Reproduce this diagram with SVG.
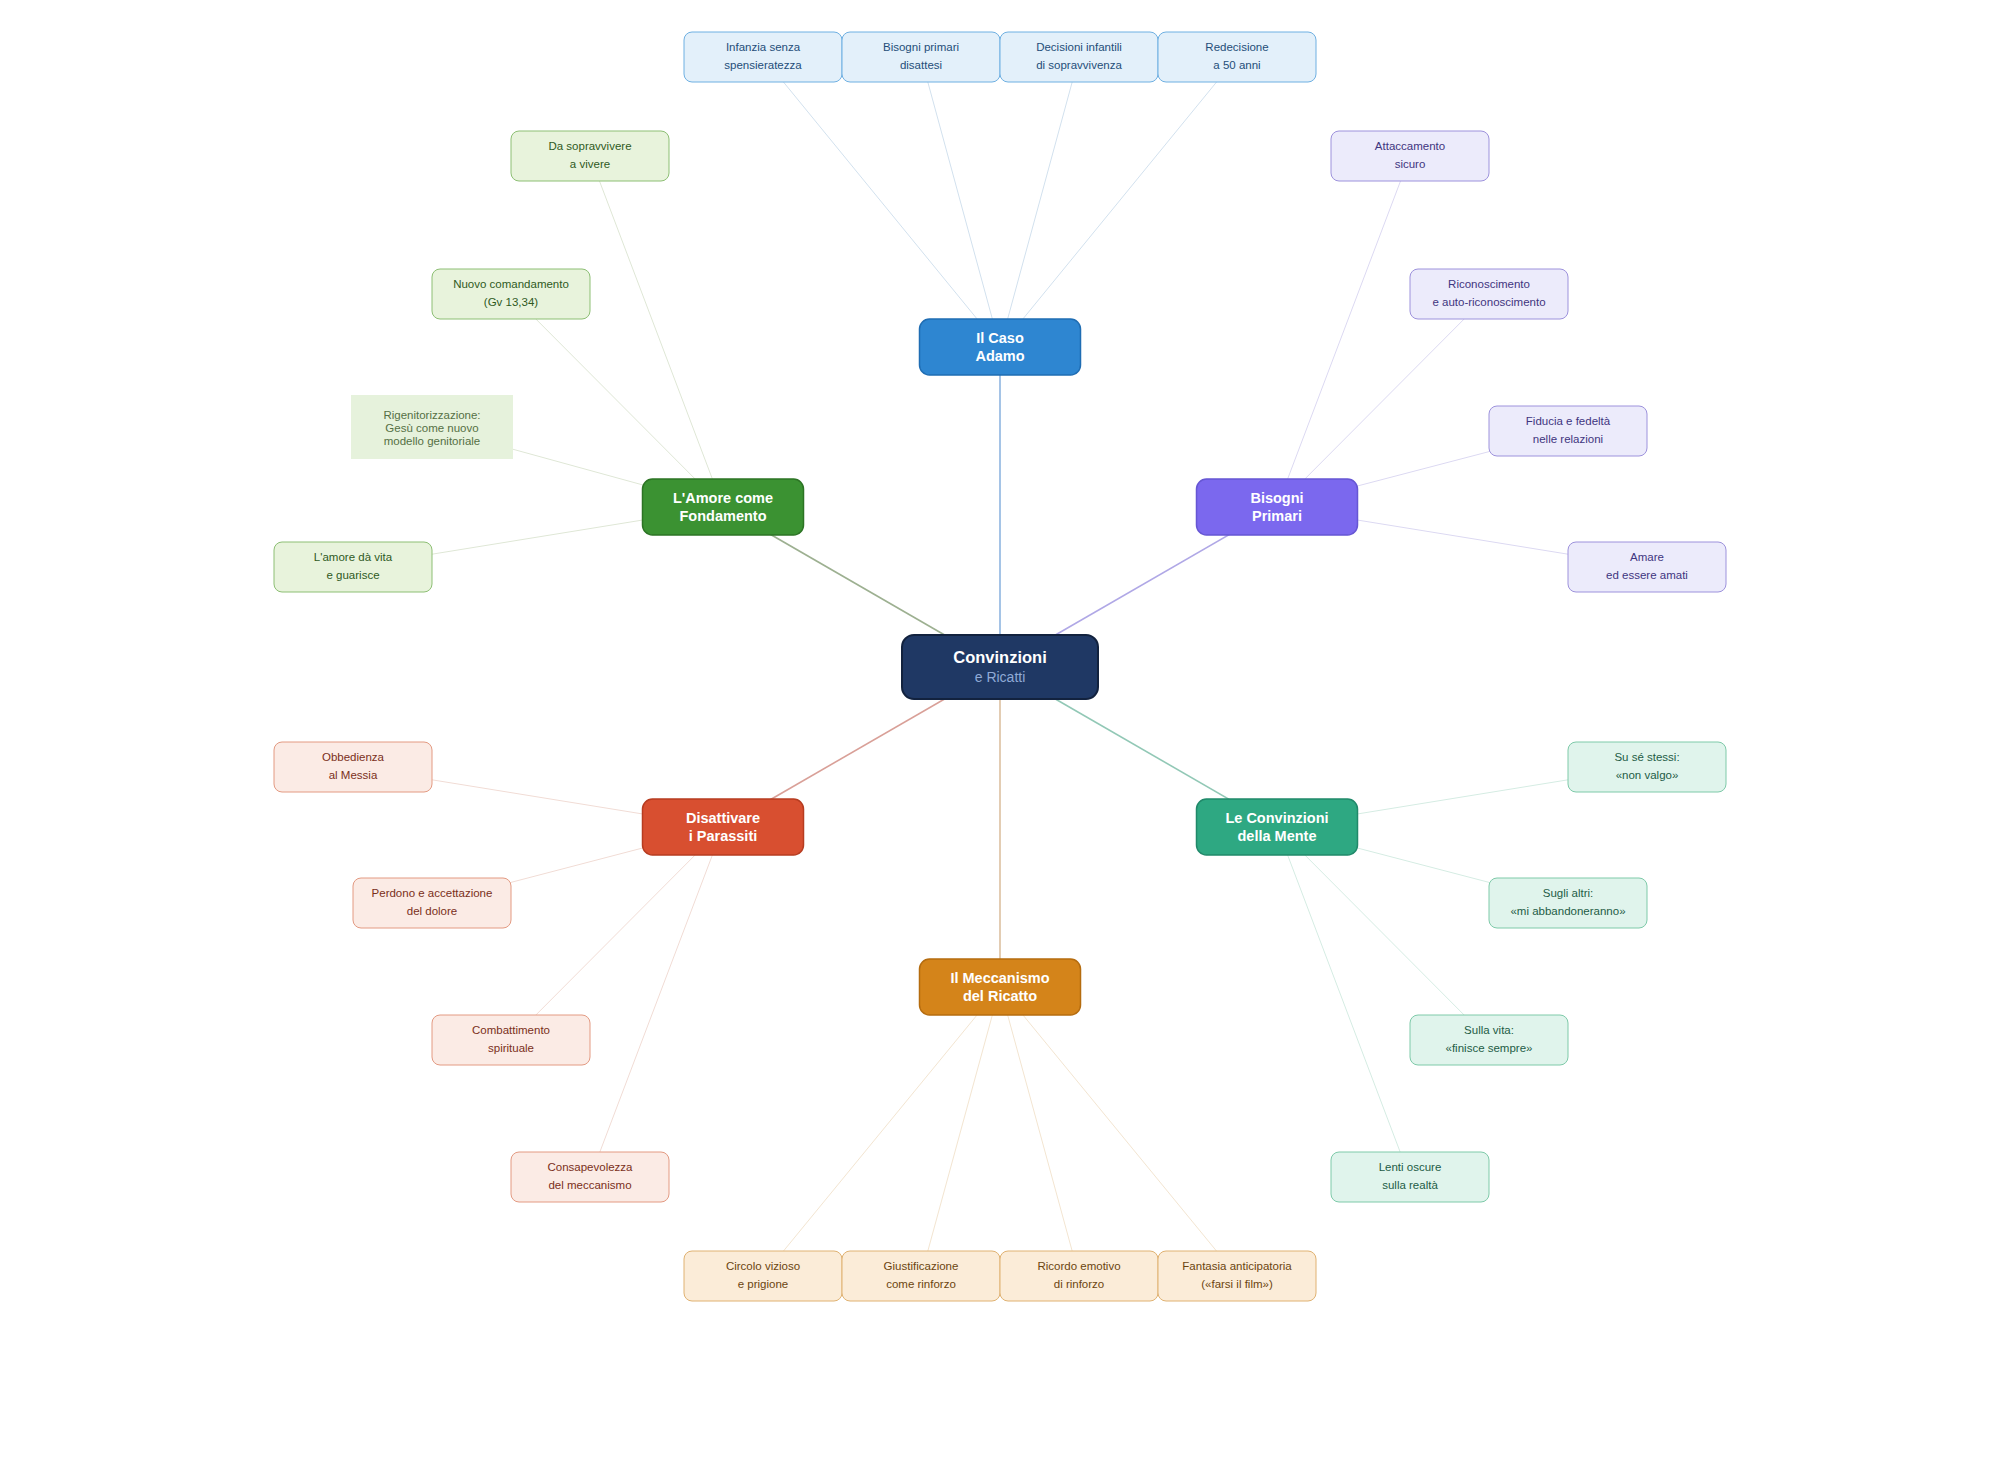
<svg xmlns="http://www.w3.org/2000/svg" width="2000" height="1467" viewBox="0 0 2000 1467">
<style>
text{font-family:"Liberation Sans",Arial,sans-serif;text-anchor:middle}
.br text{fill:#fff;font-weight:bold;font-size:14.5px}
.lf text{font-size:11.5px}
.bl rect{fill:#e3f0fa;stroke:#6fb0e2}.bl text{fill:#1f4e79}
.gr rect{fill:#e8f3dc;stroke:#8dbf74}.gr text{fill:#2f5a1e}
.pu rect{fill:#ecebfb;stroke:#9d92dc}.pu text{fill:#3f3580}
.rd rect{fill:#fbebe5;stroke:#e39a82}.rd text{fill:#7a2f1a}
.tl rect{fill:#e0f4ec;stroke:#7ecaa9}.tl text{fill:#1e5c46}
.or rect{fill:#fbecd8;stroke:#e0b272}.or text{fill:#6b4510}
.lf rect{stroke-width:1}
.br rect{stroke-width:1.5}
#connectors line{fill:none}
.c1{stroke-width:1.6}
.c2{stroke-width:1}
</style>
<rect width="2000" height="1467" fill="#ffffff"/>
<g id="connectors">
<line class="c1" x1="1000" y1="667" x2="1000" y2="347" stroke="#8fb5e0"/>
<line class="c1" x1="1000" y1="667" x2="723" y2="507" stroke="#9db091"/>
<line class="c1" x1="1000" y1="667" x2="1277" y2="507" stroke="#b0a8e6"/>
<line class="c1" x1="1000" y1="667" x2="723" y2="827" stroke="#d9a098"/>
<line class="c1" x1="1000" y1="667" x2="1277" y2="827" stroke="#92c8b6"/>
<line class="c1" x1="1000" y1="667" x2="1000" y2="987" stroke="#dcc0a0"/>
<g stroke="#d2e1ee" class="c2">
<line x1="1000" y1="347" x2="763" y2="57"/><line x1="1000" y1="347" x2="921" y2="57"/><line x1="1000" y1="347" x2="1079" y2="57"/><line x1="1000" y1="347" x2="1237" y2="57"/>
</g>
<g stroke="#dfe7d6" class="c2">
<line x1="723" y1="507" x2="590" y2="156"/><line x1="723" y1="507" x2="511" y2="294"/><line x1="723" y1="507" x2="432" y2="427"/><line x1="723" y1="507" x2="353" y2="567"/>
</g>
<g stroke="#dcd9f2" class="c2">
<line x1="1277" y1="507" x2="1410" y2="156"/><line x1="1277" y1="507" x2="1489" y2="294"/><line x1="1277" y1="507" x2="1568" y2="431"/><line x1="1277" y1="507" x2="1647" y2="567"/>
</g>
<g stroke="#f1dcd5" class="c2">
<line x1="723" y1="827" x2="353" y2="767"/><line x1="723" y1="827" x2="432" y2="903"/><line x1="723" y1="827" x2="511" y2="1040"/><line x1="723" y1="827" x2="590" y2="1178"/>
</g>
<g stroke="#d5ece3" class="c2">
<line x1="1277" y1="827" x2="1647" y2="767"/><line x1="1277" y1="827" x2="1568" y2="903"/><line x1="1277" y1="827" x2="1489" y2="1040"/><line x1="1277" y1="827" x2="1410" y2="1178"/>
</g>
<g stroke="#f3e5d1" class="c2">
<line x1="1000" y1="987" x2="763" y2="1276"/><line x1="1000" y1="987" x2="921" y2="1276"/><line x1="1000" y1="987" x2="1079" y2="1276"/><line x1="1000" y1="987" x2="1237" y2="1276"/>
</g>
</g>

<!-- Top leaves (blue) -->
<g id="n-infanzia" class="lf bl"><rect x="684" y="32" width="158" height="50" rx="8"/><text x="763" y="51">Infanzia senza</text><text x="763" y="69">spensieratezza</text></g>
<g id="n-bisogni-disattesi" class="lf bl"><rect x="842" y="32" width="158" height="50" rx="8"/><text x="921" y="51">Bisogni primari</text><text x="921" y="69">disattesi</text></g>
<g id="n-decisioni" class="lf bl"><rect x="1000" y="32" width="158" height="50" rx="8"/><text x="1079" y="51">Decisioni infantili</text><text x="1079" y="69">di sopravvivenza</text></g>
<g id="n-redecisione" class="lf bl"><rect x="1158" y="32" width="158" height="50" rx="8"/><text x="1237" y="51">Redecisione</text><text x="1237" y="69">a 50 anni</text></g>

<!-- Green leaves -->
<g id="n-sopravvivere" class="lf gr"><rect x="511" y="131" width="158" height="50" rx="8"/><text x="590" y="150">Da sopravvivere</text><text x="590" y="168">a vivere</text></g>
<g id="n-comandamento" class="lf gr"><rect x="432" y="269" width="158" height="50" rx="8"/><text x="511" y="288">Nuovo comandamento</text><text x="511" y="306">(Gv 13,34)</text></g>
<g id="n-rigenitorizzazione"><rect x="351" y="395" width="162" height="64" fill="#e6f2dc"/><text x="432" y="419" font-size="11.5" fill="#557045">Rigenitorizzazione:</text><text x="432" y="432" font-size="11.5" fill="#557045">Gesù come nuovo</text><text x="432" y="445" font-size="11.5" fill="#557045">modello genitoriale</text></g>
<g id="n-amore-vita" class="lf gr"><rect x="274" y="542" width="158" height="50" rx="8"/><text x="353" y="561">L'amore dà vita</text><text x="353" y="579">e guarisce</text></g>

<!-- Purple leaves -->
<g id="n-attaccamento" class="lf pu"><rect x="1331" y="131" width="158" height="50" rx="8"/><text x="1410" y="150">Attaccamento</text><text x="1410" y="168">sicuro</text></g>
<g id="n-riconoscimento" class="lf pu"><rect x="1410" y="269" width="158" height="50" rx="8"/><text x="1489" y="288">Riconoscimento</text><text x="1489" y="306">e auto-riconoscimento</text></g>
<g id="n-fiducia" class="lf pu"><rect x="1489" y="406" width="158" height="50" rx="8"/><text x="1568" y="425">Fiducia e fedeltà</text><text x="1568" y="443">nelle relazioni</text></g>
<g id="n-amare" class="lf pu"><rect x="1568" y="542" width="158" height="50" rx="8"/><text x="1647" y="561">Amare</text><text x="1647" y="579">ed essere amati</text></g>

<!-- Red leaves -->
<g id="n-obbedienza" class="lf rd"><rect x="274" y="742" width="158" height="50" rx="8"/><text x="353" y="761">Obbedienza</text><text x="353" y="779">al Messia</text></g>
<g id="n-perdono" class="lf rd"><rect x="353" y="878" width="158" height="50" rx="8"/><text x="432" y="897">Perdono e accettazione</text><text x="432" y="915">del dolore</text></g>
<g id="n-combattimento" class="lf rd"><rect x="432" y="1015" width="158" height="50" rx="8"/><text x="511" y="1034">Combattimento</text><text x="511" y="1052">spirituale</text></g>
<g id="n-consapevolezza" class="lf rd"><rect x="511" y="1152" width="158" height="50" rx="8"/><text x="590" y="1171">Consapevolezza</text><text x="590" y="1189">del meccanismo</text></g>

<!-- Teal leaves -->
<g id="n-se-stessi" class="lf tl"><rect x="1568" y="742" width="158" height="50" rx="8"/><text x="1647" y="761">Su sé stessi:</text><text x="1647" y="779">«non valgo»</text></g>
<g id="n-altri" class="lf tl"><rect x="1489" y="878" width="158" height="50" rx="8"/><text x="1568" y="897">Sugli altri:</text><text x="1568" y="915">«mi abbandoneranno»</text></g>
<g id="n-vita" class="lf tl"><rect x="1410" y="1015" width="158" height="50" rx="8"/><text x="1489" y="1034">Sulla vita:</text><text x="1489" y="1052">«finisce sempre»</text></g>
<g id="n-lenti" class="lf tl"><rect x="1331" y="1152" width="158" height="50" rx="8"/><text x="1410" y="1171">Lenti oscure</text><text x="1410" y="1189">sulla realtà</text></g>

<!-- Orange leaves -->
<g id="n-circolo" class="lf or"><rect x="684" y="1251" width="158" height="50" rx="8"/><text x="763" y="1270">Circolo vizioso</text><text x="763" y="1288">e prigione</text></g>
<g id="n-giustificazione" class="lf or"><rect x="842" y="1251" width="158" height="50" rx="8"/><text x="921" y="1270">Giustificazione</text><text x="921" y="1288">come rinforzo</text></g>
<g id="n-ricordo" class="lf or"><rect x="1000" y="1251" width="158" height="50" rx="8"/><text x="1079" y="1270">Ricordo emotivo</text><text x="1079" y="1288">di rinforzo</text></g>
<g id="n-fantasia" class="lf or"><rect x="1158" y="1251" width="158" height="50" rx="8"/><text x="1237" y="1270">Fantasia anticipatoria</text><text x="1237" y="1288">(«farsi il film»)</text></g>

<!-- Branch nodes -->
<g id="n-adamo" class="br"><rect x="919.5" y="319" width="161" height="56" rx="10" fill="#2e86d1" stroke="#1f6db3"/><text x="1000" y="343">Il Caso</text><text x="1000" y="361">Adamo</text></g>
<g id="n-amore" class="br"><rect x="642.5" y="479" width="161" height="56" rx="10" fill="#3b9232" stroke="#2c7424"/><text x="723" y="503">L'Amore come</text><text x="723" y="521">Fondamento</text></g>
<g id="n-bisogni" class="br"><rect x="1196.5" y="479" width="161" height="56" rx="10" fill="#7b68ee" stroke="#6656d4"/><text x="1277" y="503">Bisogni</text><text x="1277" y="521">Primari</text></g>
<g id="n-disattivare" class="br"><rect x="642.5" y="799" width="161" height="56" rx="10" fill="#d84f30" stroke="#b73c20"/><text x="723" y="823">Disattivare</text><text x="723" y="841">i Parassiti</text></g>
<g id="n-convinzioni-mente" class="br"><rect x="1196.5" y="799" width="161" height="56" rx="10" fill="#2ea882" stroke="#20896a"/><text x="1277" y="823">Le Convinzioni</text><text x="1277" y="841">della Mente</text></g>
<g id="n-meccanismo" class="br"><rect x="919.5" y="959" width="161" height="56" rx="10" fill="#d4841a" stroke="#b56c0f"/><text x="1000" y="983">Il Meccanismo</text><text x="1000" y="1001">del Ricatto</text></g>

<!-- Center -->
<g id="n-center"><rect x="902" y="635" width="196" height="64" rx="12" fill="#1f3864" stroke="#12223e" stroke-width="2"/><text x="1000" y="663" font-size="16.5" font-weight="bold" fill="#ffffff">Convinzioni</text><text x="1000" y="682" font-size="14" fill="#8faad6">e Ricatti</text></g>
</svg>
